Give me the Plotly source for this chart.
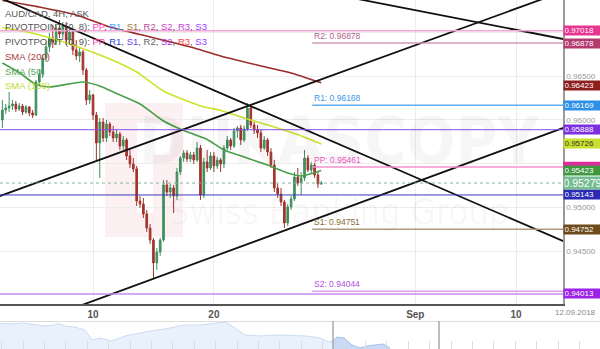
import plotly.graph_objects as go

# ---------------- data ----------------
candle_idx = list(range(96))
opens = [0.95999, 0.96113, 0.96136, 0.96159, 0.96182, 0.96125, 0.96159, 0.96090, 0.96148, 0.96079,
         0.96056, 0.96433, 0.96524, 0.96707, 0.96832, 0.96935, 0.96890, 0.97049, 0.96981, 0.97072,
         0.96912, 0.97004, 0.96798, 0.96730, 0.96775, 0.96570, 0.96227, 0.96285, 0.96056, 0.95737,
         0.95976, 0.95794, 0.95953, 0.95862, 0.95794, 0.95839, 0.95702, 0.95771, 0.95588, 0.95497,
         0.95440, 0.95074, 0.95040, 0.94926, 0.94766, 0.94629, 0.94367, 0.94492, 0.94629, 0.95257,
         0.95177, 0.95223, 0.95132, 0.95405, 0.95565, 0.95622, 0.95554, 0.95600, 0.95542, 0.95679,
         0.95143, 0.95520, 0.95451, 0.95588, 0.95474, 0.95542, 0.95497, 0.95679, 0.95771, 0.95702,
         0.95874, 0.95908, 0.95771, 0.95896, 0.96136, 0.95942, 0.95885, 0.95851, 0.95679, 0.95771,
         0.95634, 0.95485, 0.95223, 0.95154, 0.95063, 0.94823, 0.95006, 0.95097, 0.95348, 0.95280,
         0.95337, 0.95565, 0.95428, 0.95485, 0.95371, 0.95269]
highs = [0.96227, 0.96182, 0.96319, 0.96227, 0.96216, 0.96193, 0.96182, 0.96170, 0.96159, 0.96113,
         0.96456, 0.96570, 0.96741, 0.96890, 0.96992, 0.97084, 0.97095, 0.97141, 0.97118, 0.97118,
         0.97049, 0.97027, 0.96912, 0.96821, 0.96798, 0.96593, 0.96342, 0.96296, 0.96090, 0.96022,
         0.96022, 0.95999, 0.95976, 0.95931, 0.95885, 0.95862, 0.95816, 0.95794, 0.95657, 0.95565,
         0.95474, 0.95132, 0.95109, 0.94972, 0.94812, 0.94652, 0.94538, 0.94652, 0.95314, 0.95314,
         0.95269, 0.95257, 0.95451, 0.95588, 0.95657, 0.95657, 0.95634, 0.95634, 0.95748, 0.95714,
         0.95565, 0.95657, 0.95634, 0.95634, 0.95577, 0.95565, 0.95714, 0.95816, 0.95794, 0.95908,
         0.95931, 0.95942, 0.95931, 0.96193, 0.96182, 0.95976, 0.95942, 0.95885, 0.95816, 0.95794,
         0.95679, 0.95542, 0.95269, 0.95223, 0.95086, 0.95040, 0.95132, 0.95405, 0.95451, 0.95405,
         0.95657, 0.95600, 0.95520, 0.95508, 0.95405, 0.95303]
lows = [0.95908, 0.96068, 0.96090, 0.96113, 0.96090, 0.96102, 0.96056, 0.96068, 0.96045, 0.96022,
        0.96045, 0.96387, 0.96479, 0.96661, 0.96775, 0.96821, 0.96855, 0.96935, 0.96912, 0.96855,
        0.96855, 0.96741, 0.96684, 0.96661, 0.96513, 0.96170, 0.96182, 0.95999, 0.95542, 0.95337,
        0.95748, 0.95748, 0.95816, 0.95748, 0.95748, 0.95657, 0.95657, 0.95542, 0.95451, 0.95405,
        0.95017, 0.94995, 0.94880, 0.94721, 0.94584, 0.94195, 0.94287, 0.94447, 0.94606, 0.95132,
        0.95109, 0.94937, 0.95086, 0.95371, 0.95520, 0.95520, 0.95520, 0.95497, 0.95520, 0.95086,
        0.95109, 0.95405, 0.95428, 0.95405, 0.95440, 0.95405, 0.95451, 0.95657, 0.95657, 0.95679,
        0.95794, 0.95714, 0.95748, 0.95874, 0.95908, 0.95839, 0.95794, 0.95634, 0.95657, 0.95588,
        0.95451, 0.95177, 0.95109, 0.95017, 0.94766, 0.94789, 0.94972, 0.95074, 0.95246, 0.95143,
        0.95303, 0.95405, 0.95383, 0.95337, 0.95223, 0.95257]
closes = [0.96113, 0.96136, 0.96159, 0.96182, 0.96125, 0.96159, 0.96090, 0.96148, 0.96079, 0.96056,
          0.96433, 0.96524, 0.96707, 0.96832, 0.96935, 0.96890, 0.97049, 0.96981, 0.97072, 0.96912,
          0.97004, 0.96798, 0.96730, 0.96775, 0.96570, 0.96227, 0.96285, 0.96056, 0.95737, 0.95976,
          0.95794, 0.95953, 0.95862, 0.95794, 0.95839, 0.95702, 0.95771, 0.95588, 0.95497, 0.95440,
          0.95074, 0.95040, 0.94926, 0.94766, 0.94629, 0.94367, 0.94492, 0.94629, 0.95257, 0.95177,
          0.95223, 0.95132, 0.95405, 0.95565, 0.95622, 0.95554, 0.95600, 0.95542, 0.95679, 0.95143,
          0.95520, 0.95451, 0.95588, 0.95474, 0.95542, 0.95497, 0.95679, 0.95771, 0.95702, 0.95874,
          0.95908, 0.95771, 0.95896, 0.96136, 0.95942, 0.95885, 0.95851, 0.95679, 0.95771, 0.95634,
          0.95485, 0.95223, 0.95154, 0.95063, 0.94823, 0.95006, 0.95097, 0.95348, 0.95280, 0.95337,
          0.95565, 0.95428, 0.95485, 0.95371, 0.95269, 0.95279]

sma200_idx = [0, 11, 22, 32, 44, 56, 65, 77, 86, 95]
sma200_val = [0.97364, 0.97289, 0.97198, 0.97061, 0.96947, 0.96832, 0.96730, 0.96616, 0.96536, 0.96423]
sma100_idx = [0, 10, 20, 32, 40, 48, 59, 65, 72, 79, 87, 95]
sma100_val = [0.97055, 0.96981, 0.96867, 0.96695, 0.96547, 0.96330, 0.96159, 0.96108, 0.96022, 0.95942, 0.95845, 0.95726]
sma50_idx = [0, 5, 10, 14, 24, 29, 34, 41, 48, 54, 61, 66, 72, 79, 85, 89, 95]
sma50_val = [0.96650, 0.96541, 0.96404, 0.96376, 0.96433, 0.96387, 0.96302, 0.96182, 0.95988, 0.95879,
             0.95777, 0.95657, 0.95577, 0.95485, 0.95394, 0.95360, 0.95423]

# trend lines: start/end (candle index, price)
trend_x0 = [-3.69, -3.69, 88.65, 17.16]
trend_y0 = [0.97443, 0.95090, 0.97509, 0.93794]
trend_x1 = [178.0, 178.0, 178.0, 178.0]
trend_y1 = [0.94435, 0.97618, 0.96842, 0.96063]

# pivot levels of the current week
week_start_idx = 92.3
pivot_names = ["R2", "R1", "PP", "S1", "S2"]
pivot_values = [0.96878, 0.96168, 0.95461, 0.94751, 0.94044]
pivot_colors = ["#cf9bb8", "#62aef0", "#f493cf", "#b09a7c", "#e0a0ee"]
pivot_text_colors = ["#b0608a", "#3a98e8", "#f050c0", "#8a6a3a", "#b050e0"]

# full-width levels
level_values = [0.97018, 0.95888, 0.95143, 0.94013]
level_colors = ["#f2a6d4", "#8c4be6", "#3a3ab8", "#c98af0"]
level_widths = [1.5, 1, 1, 1.5]

last_price = 0.95279

# right-side price labels
label_values = [0.97018, 0.96878, 0.96423, 0.96169, 0.95888, 0.95726, 0.95423, 0.95143, 0.94752, 0.94013]
label_bg = ["#e8358f", "#b23a6e", "#8e1f1f", "#2e8fe6", "#7b30e0", "#c9e02c", "#3f973f",
            "#2a2ab2", "#6e4b1c", "#9b22e6"]
pp_label_value = 0.95461
pp_label_bg = "#e02aa0"

date_tick_idx = [27, 63, 123, 153]
date_tick_text = ["10", "20", "Sep", "10"]
price_ticks = [0.945, 0.95, 0.955, 0.96, 0.965, 0.97]
hidden_price_ticks = [0.955, 0.97]   # covered by the price labels in the original

nav_t1 = [0, 12, 23, 35, 45, 55, 58, 65, 75, 85, 92, 100, 111, 125, 140, 153, 165, 184, 200, 215, 226,
          235, 245, 260, 280, 306, 320, 329, 333]
nav_v1 = [25.5, 25, 26, 24, 23, 24, 25.5, 23, 22, 19, 9, 11, 8, 13, 16, 18.5, 20, 24, 24, 26, 27,
          21, 14, 13, 14, 13, 11, 7, 8]
nav_t2 = [333, 337, 344, 352, 360, 367, 375, 383, 390]
nav_v2 = [8, 12, 11, 4, 1, 3, 4, 5, 1]

# ---------------- figure ----------------
FONT = "Liberation Sans, Arial, sans-serif"
XR = [-0.715, 167.0]
YR = [0.93898, 0.97369]
XD = 563 / 600

fig = go.Figure()

fig.add_trace(go.Candlestick(
    x=candle_idx, open=opens, high=highs, low=lows, close=closes,
    increasing=dict(line=dict(color="#3f8f5f", width=1), fillcolor="#3f8f5f"),
    decreasing=dict(line=dict(color="#a3342c", width=1), fillcolor="#a3342c"),
    whiskerwidth=0, showlegend=False, hoverinfo="skip", xaxis="x", yaxis="y"))

for xs, ys, col in [(sma200_idx, sma200_val, "#9b2b2b"),
                    (sma100_idx, sma100_val, "#cde32a"),
                    (sma50_idx, sma50_val, "#4aa04a")]:
    fig.add_trace(go.Scatter(x=xs, y=ys, mode="lines", line=dict(color=col, width=1.6, shape="spline", smoothing=0.6),
                             showlegend=False, hoverinfo="skip"))

for a, b, c, d in zip(trend_x0, trend_y0, trend_x1, trend_y1):
    fig.add_trace(go.Scatter(x=[a, c], y=[b, d], mode="lines", line=dict(color="#111111", width=1.8),
                             showlegend=False, hoverinfo="skip"))

# navigator
fig.add_trace(go.Scatter(x=nav_t1, y=nav_v1, mode="lines", fill="tozeroy", fillcolor="#e9f1fc",
                         line=dict(color="#cddcf3", width=1), xaxis="x2", yaxis="y2", showlegend=False, hoverinfo="skip"))
fig.add_trace(go.Scatter(x=nav_t2, y=nav_v2, mode="lines", fill="tozeroy", fillcolor="#c8daf5",
                         line=dict(color="#a3c0ea", width=1), xaxis="x2", yaxis="y2", showlegend=False, hoverinfo="skip"))

shapes = []
# watermark logo
shapes.append(dict(type="rect", xref="paper", yref="paper", x0=105/600, x1=183/600, y0=1-237/349, y1=1-103/349,
                   fillcolor="#fdf0f2", line=dict(width=0), layer="below"))
shapes.append(dict(type="rect", xref="paper", yref="paper", x0=137/600, x1=153/600, y0=1-213/349, y1=1-123/349,
                   fillcolor="#ffffff", line=dict(width=0), layer="below"))
shapes.append(dict(type="rect", xref="paper", yref="paper", x0=153/600, x1=170/600, y0=1-155/349, y1=1-123/349,
                   fillcolor="#ffffff", line=dict(width=0), layer="below"))

for v, c, w in zip(level_values, level_colors, level_widths):
    shapes.append(dict(type="line", xref="x domain", yref="y", x0=0, x1=1, y0=v, y1=v, line=dict(color=c, width=w)))
for v, c in zip(pivot_values, pivot_colors):
    shapes.append(dict(type="line", xref="x", yref="y", x0=week_start_idx, x1=XR[1], y0=v, y1=v,
                       line=dict(color=c, width=1.5)))
shapes.append(dict(type="line", xref="x domain", yref="y", x0=0, x1=1, y0=last_price, y1=last_price,
                   line=dict(color="#86b49a", width=1, dash="dot")))
# PP label (mostly hidden behind the SMA50 label)
shapes.append(dict(type="rect", xref="paper", yref="y", x0=XD, x1=1, y0=pp_label_value - 0.0002,
                   y1=pp_label_value + 0.00062, fillcolor=pp_label_bg, line=dict(width=0), layer="above"))
# navigator frame
shapes.append(dict(type="line", xref="paper", yref="paper", x0=0, x1=1, y0=1-321.5/349, y1=1-321.5/349,
                   line=dict(color="#dcdcdc", width=1)))
for px in (333, 439):
    shapes.append(dict(type="line", xref="paper", yref="paper", x0=px/600, x1=px/600, y0=0, y1=1-321/349,
                       line=dict(color="#a8a8a8", width=1.5)))

ann = []
# watermark text
ann.append(dict(xref="paper", yref="paper", x=340/600, y=1-141/349, text="<b>DUKASCOPY</b>", showarrow=False,
                font=dict(family="Liberation Sans Narrow, Arial Narrow, DejaVu Sans Condensed, sans-serif", size=64,
                          color="rgba(0,0,0,0.035)")))
ann.append(dict(xref="paper", yref="paper", x=339/600, y=1-211/349, text="Swiss Banking Group", showarrow=False,
                font=dict(family="Liberation Sans Narrow, Arial Narrow, DejaVu Sans Condensed, sans-serif", size=36,
                          color="rgba(0,0,0,0.035)")))

# legend texts
g = "#555555"
def sp(t, c):
    return f'<span style="color:{c}">{t}</span>'
line1 = sp("PIVOTPOINT (0, 8): ", g) + ", ".join([sp("PP", "#ff3fb4"), sp("R1", "#3fa0ff"), sp("S1", "#a07830"),
                                                   sp("R2", "#c04a9a"), sp("S2", "#d040d0"), sp("R3", "#c040e0"),
                                                   sp("S3", "#a040ff")])
line2 = sp("PIVOTPOINT (0, 9): ", g) + ", ".join([sp("PP", "#ff3fb4"), sp("R1", "#3040e0"), sp("S1", "#7040f0"),
                                                   sp("R2", "#666666"), sp("S2", "#b040e0"), sp("R3", "#ff4040"),
                                                   sp("S3", "#9040ff")])
legend_items = [("AUD/CAD, 4H, ASK", g, 13.7), (line1, g, 26.5), (line2, g, 41.7),
                ("SMA (200)", "#a84040", 56.7), ("SMA (50)", "#5aa55a", 71), ("SMA (100)", "#c4dc30", 86)]
for t, c, py in legend_items:
    ann.append(dict(xref="paper", yref="paper", x=3/600, y=1-py/349, xanchor="left", yanchor="middle", text=t,
                    showarrow=False, font=dict(family=FONT, size=9.5, color=c)))

# pivot texts
for n, v, c in zip(pivot_names, pivot_values, pivot_text_colors):
    ann.append(dict(xref="x", yref="y", x=week_start_idx, y=v, xanchor="left", yanchor="bottom",
                    text=f"{n}: {v:.5f}", showarrow=False, font=dict(family=FONT, size=8.5, color=c), yshift=0))

# right price labels
for v, bg in zip(label_values, label_bg):
    ann.append(dict(xref="paper", yref="y", x=XD, y=v, xanchor="left", yanchor="middle", text=f"{v:.5f}",
                    showarrow=False, bgcolor=bg, width=36, height=8, borderpad=0.5, align="left",
                    yshift=-2.5 if bg == "#8e1f1f" else 0,
                    font=dict(family=FONT, size=8, color="#333333" if bg == "#c9e02c" else "#ffffff")))
ann.append(dict(xref="paper", yref="y", x=XD, y=last_price, xanchor="left", yanchor="middle", text=f"{last_price:.5f}",
                showarrow=False, bgcolor="#76bc92", width=36, height=11, borderpad=0.5,
                font=dict(family=FONT, size=10.5, color="#ffffff")))
ann.append(dict(xref="paper", yref="paper", x=1, y=1-312/349, xanchor="right", yanchor="middle", xshift=-2,
                text="12.09.2018", showarrow=False, font=dict(family=FONT, size=8, color="#888888")))

fig.update_layout(
    width=600, height=349, margin=dict(l=0, r=0, t=0, b=0),
    paper_bgcolor="#ffffff", plot_bgcolor="#ffffff", showlegend=False,
    font=dict(family=FONT),
    xaxis=dict(domain=[0, XD], range=XR, anchor="y", tickvals=date_tick_idx, ticktext=date_tick_text,
               showgrid=True, gridcolor="#ececec", showline=True, linecolor="#555555", linewidth=1.5,
               ticks="", zeroline=False, rangeslider=dict(visible=False),
               tickfont=dict(size=10, color="#555555", weight="bold")),
    yaxis=dict(domain=[45/349, 1], range=YR, anchor="x", side="right", tickvals=price_ticks,
               ticktext=["" if v in hidden_price_ticks else f"{v:.5f}" for v in price_ticks],
               showgrid=True, gridcolor="#ececec",
               showline=True, linecolor="#9a9a9a", linewidth=1.5, ticks="", zeroline=False,
               tickfont=dict(size=8, color="#999999")),
    xaxis2=dict(domain=[0, 1], anchor="y2", range=[0, 600], showgrid=False, showticklabels=False,
                ticks="inside", tick0=23, dtick=21.4, ticklen=8, tickcolor="#dddddd", showline=False, zeroline=False),
    yaxis2=dict(domain=[0, 29/349], anchor="x2", range=[0, 29], visible=False),
    shapes=shapes, annotations=ann,
)

fig.write_html("out.html")
